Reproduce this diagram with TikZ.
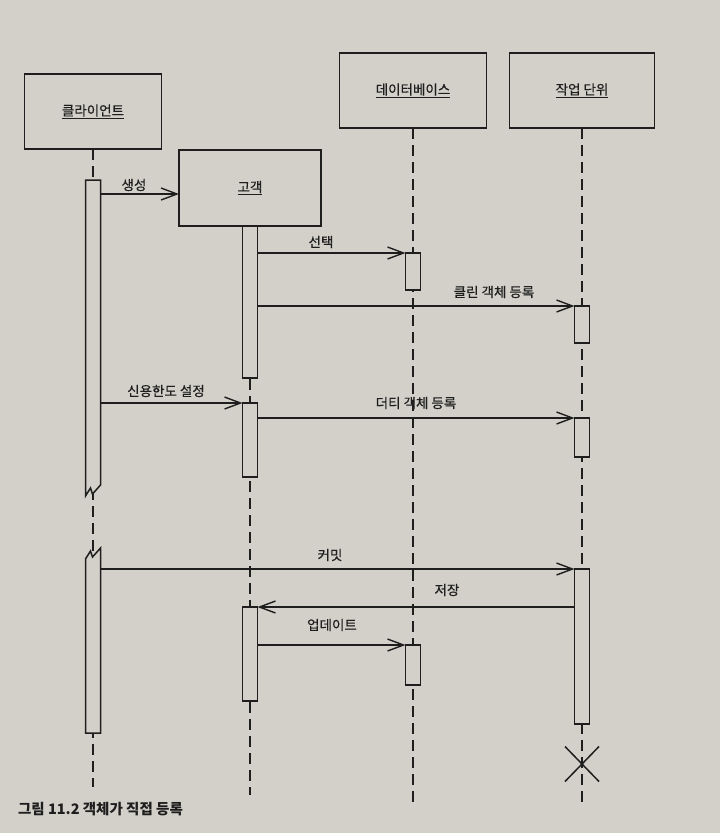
\documentclass[tikz,border=0pt]{standalone}
\usepackage{fontspec}
\setmainfont{Noto Sans CJK KR}
\newfontfamily\lblfont{Noto Sans CJK KR}[FakeBold=0.5]
\usetikzlibrary{arrows.meta,calc,shapes.misc}
\definecolor{paper}{RGB}{210,208,201}
\definecolor{ink}{RGB}{30,30,30}
\begin{document}
\begin{tikzpicture}[x=1pt,y=-1pt,
  every node/.style={inner sep=0pt,outer sep=0pt,text=ink},
  objbox/.style={draw=ink,fill=paper,line width=1.5pt,minimum height=75pt,font=\lblfont\fontsize{13.5}{15}\selectfont},
  actbar/.style={draw=ink,fill=paper,line width=1.5pt,minimum width=15pt},
  lifeline/.style={draw=ink,line width=1.4pt,dash pattern=on 11pt off 6pt},
  msg/.style={draw=ink,line width=1.4pt,-{Straight Barb[length=16pt,width=12pt]}},
  msglabel/.style={font=\lblfont\fontsize{13.5}{15}\selectfont},
  captiontext/.style={font=\fontsize{14.5}{17}\selectfont\bfseries,anchor=west},
  destroy/.style={cross out,draw=ink,line width=1.5pt,minimum width=34pt,minimum height=35pt}]

\fill[paper] (0,0) rectangle (720,833);

% objects
\node[objbox,minimum width=137pt] (client) at (93,111.5) {\underline{클라이언트}};
\node[objbox,minimum width=142pt,minimum height=76pt] (cust) at (250,188) {\underline{고객}};
\node[objbox,minimum width=147pt] (db) at (413,90.5) {\underline{데이터베이스}};
\node[objbox,minimum width=145pt] (uow) at (582,90.5) {\underline{작업 단위}};

% lifeline ends
\coordinate (clientEnd) at (93,787);
\coordinate (custEnd) at (250,795);
\coordinate (dbEnd) at (413,802);
\coordinate (uowEnd) at (582,805);

\draw[lifeline] (client.south) -- (clientEnd);
\draw[lifeline] (cust.south) -- (custEnd);
\draw[lifeline] (db.south) -- (dbEnd);
\draw[lifeline] (uow.south) -- (uowEnd);

% client activation bars (with break)
\node[actbar,draw=none,fill=none,minimum height=316pt] (cb1) at (93,338) {};
\filldraw[fill=paper,draw=ink,line width=1.5pt,line join=miter]
  (cb1.north east) -- (cb1.north west) -- (cb1.south west)
  -- ++(5,-8) -- ++(2,6) -- ++(8,-9) -- cycle;
\node[actbar,draw=none,fill=none,minimum height=185pt] (cb2) at (93,640.5) {};
\filldraw[fill=paper,draw=ink,line width=1.5pt,line join=miter]
  (cb2.south east) -- (cb2.south west) -- ($(cb2.north west)+(0,11)$)
  -- ++(5,-8) -- ++(2,6) -- ++(8,-9) -- cycle;

% other activation bars
\node[actbar,minimum height=152pt] (gb1) at (250,302) {};
\node[actbar,minimum height=74pt] (gb2) at (250,440) {};
\node[actbar,minimum height=94pt] (gb3) at (250,654) {};
\node[actbar,minimum height=37pt] (db1) at (413,271.5) {};
\node[actbar,minimum height=40pt] (db2) at (413,665) {};
\node[actbar,minimum height=37pt] (wb1) at (582,324.5) {};
\node[actbar,minimum height=39pt] (wb2) at (582,437.5) {};
\node[actbar,minimum height=155pt] (wb3) at (582,646.5) {};

% destruction
\node[destroy] (xmark) at (582,764) {};

% messages
\draw[msg] ($(cb1.east |- cust.west)+(0,6)$) -- ($(cust.west)+(0,6)$);
\draw[msg] (gb1.east |- db1.north) -- (db1.north west);
\draw[msg] (gb1.east |- wb1.north) -- (wb1.north west);
\draw[msg] (cb1.east |- gb2.north) -- (gb2.north west);
\draw[msg] (gb2.east |- wb2.north) -- (wb2.north west);
\draw[msg] (cb2.east |- wb3.north) -- (wb3.north west);
\draw[msg] (wb3.west |- gb3.north) -- (gb3.north east);
\draw[msg] (gb3.east |- db2.north) -- (db2.north west);

% message labels
\node[msglabel] (lcreate) at (134,185) {생성};
\node[msglabel] (lselect) at (321,242) {선택};
\node[msglabel] (lclean) at (494,292) {클린 객체 등록};
\node[msglabel] (lcredit) at (166,391) {신용한도 설정};
\node[msglabel] (ldirty) at (416,403) {더티 객체 등록};
\node[msglabel] (lcommit) at (330,555) {커밋};
\node[msglabel] (lsave) at (447,590) {저장};
\node[msglabel] (lupdate) at (332,625) {업데이트};

% caption
\node[captiontext] (cap) at (18,809) {그림 11.2 객체가 직접 등록};
\end{tikzpicture}
\end{document}
